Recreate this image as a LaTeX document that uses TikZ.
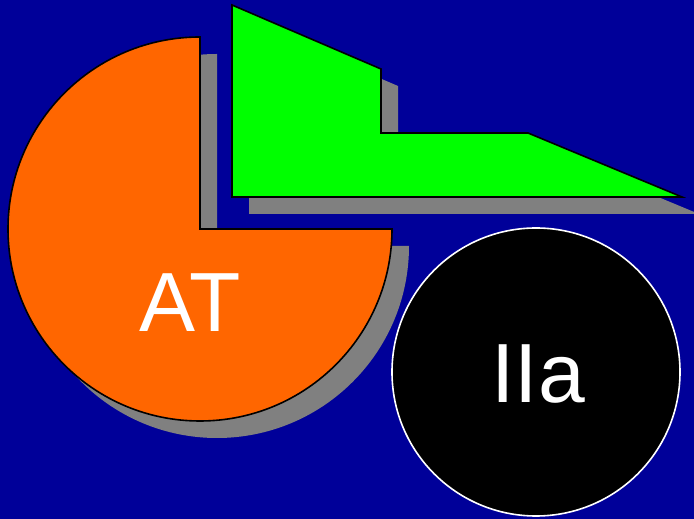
\documentclass[tikz,border=0pt]{standalone}
\usepackage{fontspec}
\setmainfont{Liberation Sans}
\definecolor{bgblue}{HTML}{000099}
\definecolor{pieorange}{HTML}{FF6600}
\definecolor{brightgreen}{HTML}{00FF00}
\definecolor{shadowgrey}{HTML}{808080}
\tikzset{
  dropshadow/.style={fill=shadowgrey, shift={(17,-17)}},
  outlined/.style={draw=black, line width=1.6pt, line join=miter},
  biglabel/.style={text=white, anchor=base, inner sep=0pt, font=\fontsize{84}{96}\selectfont},
}
\begin{document}
\begin{tikzpicture}[x=1pt,y=1pt]
  \fill[bgblue] (0,0) rectangle (694,519);
  \useasboundingbox (0,0) rectangle (694,519);
  % shadows
  \fill[dropshadow] (200,290) -- (200,482) arc[start angle=90, end angle=360, radius=192] -- cycle;
  \fill[dropshadow] (232,514) -- (381,450) -- (381,386) -- (528,386) -- (682,322) -- (232,322) -- cycle;
  % three-quarter pie
  \filldraw[fill=pieorange, outlined] (200,290) -- (200,482) arc[start angle=90, end angle=360, radius=192] -- cycle;
  % stepped wedge
  \filldraw[fill=brightgreen, outlined] (232,514) -- (381,450) -- (381,386) -- (528,386) -- (682,322) -- (232,322) -- cycle;
  % disc
  \filldraw[fill=black, draw=white, line width=1.6pt] (536,147) circle[radius=144];
  \node[biglabel] (at) at (190.5,187) {AT};
  \node[biglabel] (iia) at (538,116) {IIa};
\end{tikzpicture}
\end{document}
